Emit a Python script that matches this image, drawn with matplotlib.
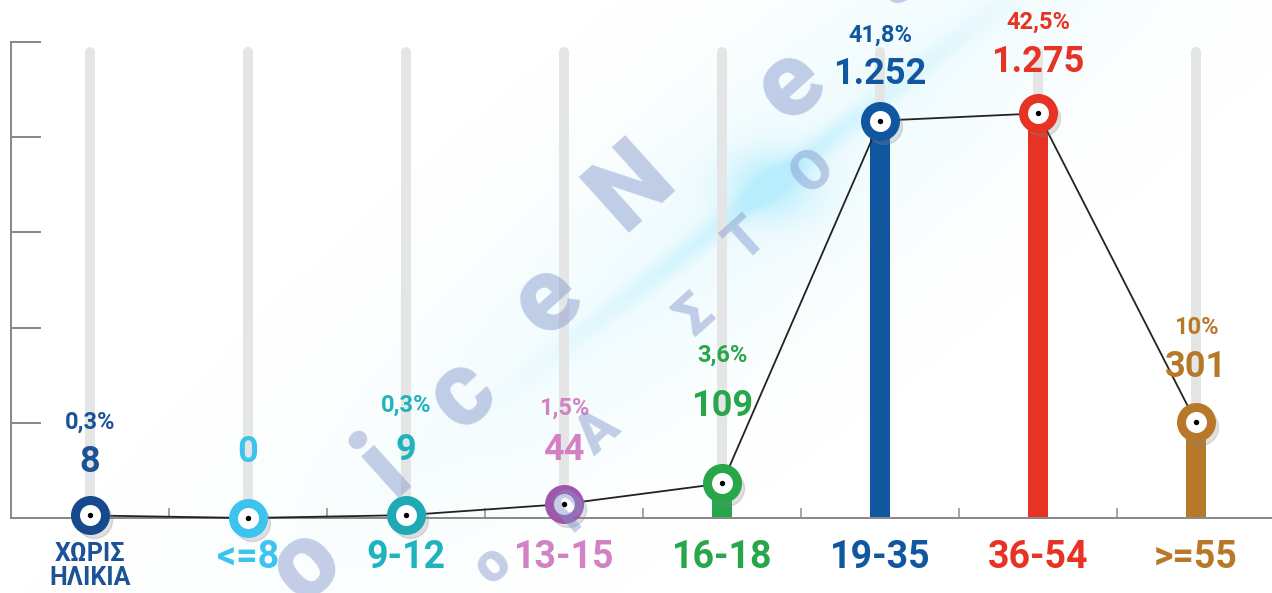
import matplotlib
matplotlib.use("Agg")
import matplotlib.pyplot as plt
import matplotlib.transforms as mtrans
import numpy as np

# data
categories = ["ΧΩΡΙΣ\nΗΛΙΚΙΑ", "<=8", "9-12", "13-15", "16-18", "19-35", "36-54", ">=55"]
values = [8, 0, 9, 44, 109, 1252, 1275, 301]
value_labels = ["8", "0", "9", "44", "109", "1.252", "1.275", "301"]
pct_labels = ["0,3%", "", "0,3%", "1,5%", "3,6%", "41,8%", "42,5%", "10%"]

text_colors = ["#1c5396", "#3cc4ee", "#1fb3bd", "#d481c3", "#27a64a", "#10579f", "#e63323", "#b8782a"]
marker_colors = ["#164a8c", "#3cc4ee", "#1ea9b3", "#a156ad", "#27a64a", "#10579f", "#e63323", "#b8782a"]

# label lift above the marker centre (pixels), as placed in the original
value_lift = [53, 66, 65, 54, 77, 47, 51, 55]
pct_lift = [93, 0, 110, 96, 128, 85, 91, 95]

FONT = ["Roboto", "DejaVu Sans"]
W, H = 1272, 593
PX = 72 / 100  # points per pixel at dpi 100

fig = plt.figure(figsize=(W / 100, H / 100), dpi=100)
fig.patch.set_facecolor("white")

# soft diagonal glow behind the chart
yy, xx = np.mgrid[0:H, 0:W]
along = (xx - 770) * 0.79 - (yy - 185) * 0.62
across = (xx - 770) * 0.62 + (yy - 185) * 0.79
band = np.exp(-(across / 120.0) ** 2) * np.exp(-(along / 520.0) ** 2)
streak = np.exp(-(across / 12.0) ** 2) * np.exp(-(along / 260.0) ** 2)
spot = np.exp(-(((xx - 770) / 45.0) ** 2 + ((yy - 185) / 35.0) ** 2))
glow = np.zeros((H, W, 4))
glow[..., 0] = 0.72
glow[..., 1] = 0.93
glow[..., 2] = 0.99
glow[..., 3] = np.clip(0.22 * band + 0.45 * streak + 0.7 * spot, 0, 1)
fig.figimage(glow[::-1], 0, 0, zorder=-5, origin="lower")

ax = fig.add_axes([11 / W, 75 / H, 1 - 11 / W, 476 / H])
ax.set_facecolor("none")

# watermark letters (drawn over the chart, semi-transparent)
wm_letters = ["o", "i", "c", "e", "N", "e", "t"]
wm_pos = [(305, 565), (385, 468), (462, 395), (547, 300), (632, 187), (790, 85), (885, -20)]
for ch, (px, py) in zip(wm_letters, wm_pos):
    fig.text(px / W, 1 - py / H, ch, fontsize=76, fontweight="black", color="#7f93c9", alpha=0.45,
             rotation=42, ha="center", va="center", family=FONT, zorder=10)
wm2_letters = ["ο", "ρ", "Α", "Σ", "Τ", "Ο"]
wm2_pos = [(492, 565), (566, 503), (598, 433), (695, 315), (747, 240), (813, 172)]
for ch, (px, py) in zip(wm2_letters, wm2_pos):
    fig.text(px / W, 1 - py / H, ch, fontsize=40, fontweight="black", color="#7f93c9", alpha=0.45,
             rotation=42, ha="center", va="center", family=FONT, zorder=10)

x = np.arange(len(categories))

# grey rods behind each category
for xi in x:
    ax.plot([xi, xi], [0, 1470], color="#e4e6e6", lw=10 * PX, solid_capstyle="round", zorder=1)

ax.bar(x, values, width=0.127, color=marker_colors, zorder=2)

# connecting line
ax.plot(x, values, color="#222222", lw=1.3, zorder=3, clip_on=False)

# marker shadows + rings
shadow = ax.transData + mtrans.ScaledTranslation(4 / 100, -5 / 100, fig.dpi_scale_trans)
for xi, v, c in zip(x, values, marker_colors):
    ax.plot(xi, v, "o", ms=36 * PX, color="#888888", alpha=0.25, zorder=3, transform=shadow, clip_on=False)
    ax.plot(xi, v, "o", ms=30 * PX, mew=9 * PX, mfc="white", mec=c, zorder=4, clip_on=False)
ax.plot(x, values, "o", ms=4 * PX, color="black", zorder=5, clip_on=False)

# value + percentage labels
for xi, v, vl, pl, tc, vlift, plift in zip(x, values, value_labels, pct_labels, text_colors, value_lift, pct_lift):
    ax.annotate(vl, (xi, v), xytext=(0, vlift * PX), textcoords="offset points",
                ha="center", va="center", fontsize=26, fontweight="bold", color=tc, family=FONT, zorder=6)
    if pl:
        ax.annotate(pl, (xi, v), xytext=(0, plift * PX), textcoords="offset points",
                    ha="center", va="center", fontsize=17, fontweight="bold", color=tc, family=FONT, zorder=6)

# category labels
for xi, cat, tc in zip(x, categories, text_colors):
    if "\n" in cat:
        ax.annotate(cat, (xi, 0), xycoords=("data", "axes fraction"), xytext=(0, -24 * PX),
                    textcoords="offset points", ha="center", va="top", fontsize=18, fontweight="bold",
                    color=tc, family=FONT, linespacing=1.0, annotation_clip=False)
    else:
        ax.annotate(cat, (xi, 0), xycoords=("data", "axes fraction"), xytext=(0, -40 * PX),
                    textcoords="offset points", ha="center", va="center", fontsize=27, fontweight="bold",
                    color=tc, family=FONT, annotation_clip=False)

ax.set_xlim(-0.5, 7.48)
ax.set_ylim(0, 1500)
ax.set_yticks(np.arange(0, 1501, 300))
ax.set_xticks(x[:-1] + 0.5)
ax.set_yticklabels([])
ax.set_xticklabels([])
ax.tick_params(axis="y", direction="in", length=30 * PX, width=2 * PX, color="#8a8a8a")
ax.tick_params(axis="x", direction="in", length=10 * PX, width=1.5 * PX, color="#8a8a8a")
for s in ["top", "right"]:
    ax.spines[s].set_visible(False)
for s in ["left", "bottom"]:
    ax.spines[s].set_color("#8a8a8a")
    ax.spines[s].set_linewidth(2 * PX)
    ax.spines[s].set_zorder(2.5)

fig.savefig("out.png", dpi=100)
